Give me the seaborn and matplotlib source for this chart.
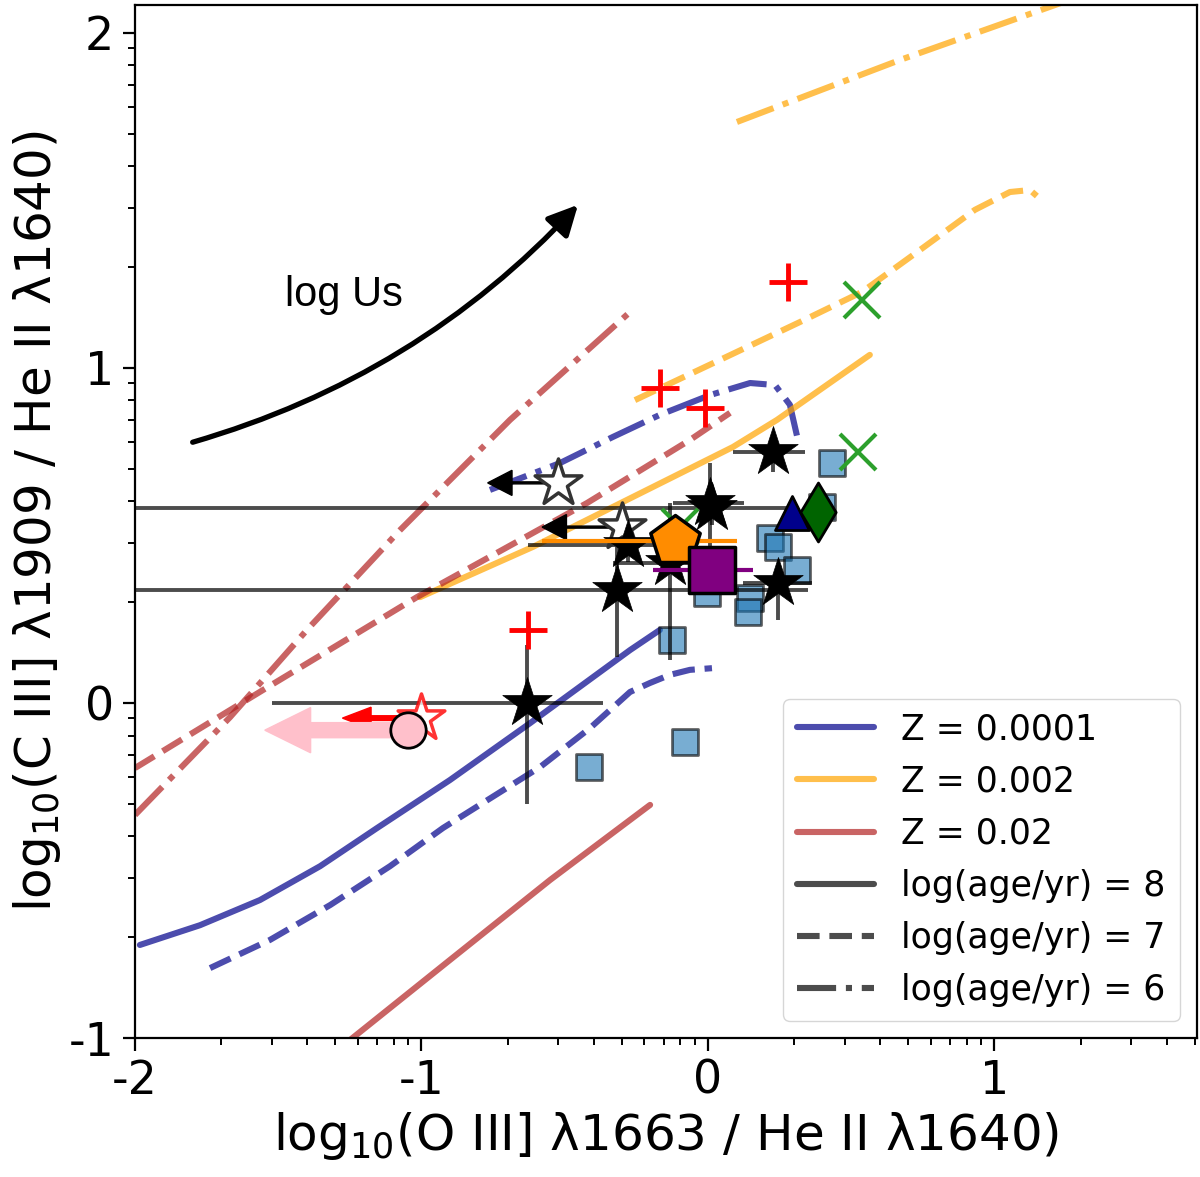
# ============================================
# UV LINE-RATIO DIAGNOSTIC: CIII]/HeII vs OIII]/HeII
# ============================================

import numpy as np
import matplotlib
matplotlib.use("Agg")
import matplotlib.pyplot as plt
import seaborn as sns
from matplotlib.lines import Line2D

# ============================================
# MODEL TRACKS
# ============================================

# Z = 0.0001
blue_age8_x = [-1.983, -1.773, -1.564, -1.354, -1.155, -0.901, -0.621, -0.272, -0.168]
blue_age8_y = [-0.722, -0.663, -0.588, -0.487, -0.373, -0.230, -0.060, 0.158, 0.218]
blue_age7_x = [-1.738, -1.529, -1.319, -1.110, -0.925, -0.586, -0.412, -0.272, -0.202, -0.133, -0.063, 0.014]
blue_age7_y = [-0.791, -0.707, -0.603, -0.487, -0.373, -0.191, -0.075, 0.033, 0.060, 0.084, 0.099, 0.104]
blue_age6_x = [-0.761, -0.517, -0.332, -0.168, 0.007, 0.147, 0.234, 0.286, 0.314]
blue_age6_y = [0.636, 0.716, 0.794, 0.860, 0.919, 0.955, 0.949, 0.890, 0.785]

# Z = 0.002
orange_age8_x = [-1.005, -0.611, -0.262, 0.087, 0.241, 0.565]
orange_age8_y = [0.316, 0.466, 0.615, 0.764, 0.845, 1.039]
orange_age7_x = [-0.255, 0.042, 0.321, 0.538, 0.740, 0.932, 1.054, 1.124, 1.148]
orange_age7_y = [0.904, 1.024, 1.137, 1.227, 1.352, 1.472, 1.525, 1.531, 1.513]
orange_age6_x = [0.101, 0.670, 1.264]
orange_age6_y = [1.734, 1.919, 2.099]

# Z = 0.02
red_age8_x = [-1.250, -0.901, -0.551, -0.202]
red_age8_y = [-1.006, -0.767, -0.528, -0.304]
red_age7_x = [-2.000, -1.553, -1.016, -0.422, -0.063, 0.077]
red_age7_y = [-0.194, 0.039, 0.316, 0.597, 0.785, 0.866]
red_age6_x = [-2.000, -1.668, -1.400, -1.075, -0.691, -0.272]
red_age6_y = [-0.334, -0.042, 0.218, 0.516, 0.845, 1.167]

# ============================================
# OBSERVED POINTS
# ============================================

# filled black stars with asymmetric errors
star_x = [0.227, 0.007, 0.015, -0.279, -0.318, -0.133, 0.244, -0.632]
star_y = [0.749, 0.597, 0.582, 0.472, 0.337, 0.418, 0.358, 0.000]
star_xlo = [0.14, 0.13, 3.00, 0.35, 3.00, 0.20, 0.12, 0.89]
star_xhi = [0.11, 0.12, 0.27, 0.12, 0.667, 0.15, 0.12, 0.265]
star_ylo = [0.06, 0.25, 0.05, 0.05, 0.20, 0.29, 0.11, 0.30]
star_yhi = [0.05, 0.12, 0.05, 0.05, 0.13, 0.18, 0.05, 0.173]

# open stars (upper limits in x)
open_x = [-0.524, -0.300]
open_y = [0.657, 0.525]
open_dx = [-0.245, -0.279]

# red open star limit
redstar_x = [-1.000]
redstar_y = [-0.045]
redstar_dx = [-0.276]

# pink circle limit
pink_x = [-1.047]
pink_y = [-0.081]
pink_dx = [-0.50]

# red plus
plus_x = [0.279, -0.168, -0.010, -0.628]
plus_y = [1.257, 0.940, 0.881, 0.218]

# green crosses
cross_x = [0.538, 0.524, -0.098]
cross_y = [1.203, 0.749, 0.525]

# blue squares
sq_x = [0.433, 0.398, 0.216, 0.244, 0.311, 0.147, 0.140, -0.003, -0.126, -0.080, -0.415]
sq_y = [0.716, 0.585, 0.493, 0.466, 0.397, 0.313, 0.272, 0.328, 0.188, -0.116, -0.191]

# single objects
pent_x, pent_y = [-0.115], [0.484]
pent_xlo, pent_xhi = [0.464], [0.216]
purple_x, purple_y = [0.014], [0.397]
purple_xlo, purple_xhi = [0.206], [0.143]
tri_x, tri_y = [0.293], [0.567]
dia_x, dia_y = [0.384], [0.570]

# ============================================
# STYLE SETTINGS
# ============================================

sns.set_style("ticks")
plt.rcParams['font.family'] = ['DejaVu Sans']
plt.rcParams['axes.unicode_minus'] = False
plt.rcParams['mathtext.default'] = 'regular'
for key in ['text.color', 'axes.labelcolor', 'xtick.color', 'ytick.color',
            'axes.edgecolor']:
    plt.rcParams[key] = 'black'

BLUE = "darkblue"
ORANGE = "orange"
RED = "firebrick"
LW = 4.4
AL = 0.7

fig = plt.figure(figsize=(12, 11.77), dpi=100)
ax = fig.add_axes([0.1125, 0.118, 0.885, 0.878])

# ============================================
# DRAW MODEL TRACKS
# ============================================

tracks = [
    (blue_age8_x, blue_age8_y, BLUE, "-"),
    (blue_age7_x, blue_age7_y, BLUE, "--"),
    (blue_age6_x, blue_age6_y, BLUE, "-."),
    (orange_age8_x, orange_age8_y, ORANGE, "-"),
    (orange_age7_x, orange_age7_y, ORANGE, "--"),
    (orange_age6_x, orange_age6_y, ORANGE, "-."),
    (red_age8_x, red_age8_y, RED, "-"),
    (red_age7_x, red_age7_y, RED, "--"),
    (red_age6_x, red_age6_y, RED, "-."),
]

for tx, ty, col, ls in tracks:
    sns.lineplot(x=tx, y=ty, sort=False, estimator=None, color=col,
                 linestyle=ls, linewidth=LW, alpha=AL, ax=ax, zorder=2)

# ============================================
# LOG U ARROW
# ============================================

ax.annotate("", xy=(-0.447, 1.493), xytext=(-1.808, 0.776),
            arrowprops=dict(arrowstyle="-|>", color="k", lw=3.8,
                            mutation_scale=45,
                            connectionstyle="arc3,rad=0.14"))
ax.text(-1.27, 1.218, "log Us", fontsize=30, ha="center", va="center",
        family=["Liberation Sans", "DejaVu Sans"])

# ============================================
# DATA POINTS
# ============================================

sns.scatterplot(x=sq_x, y=sq_y, marker="s", s=340, color="tab:blue",
                alpha=0.6, edgecolor="k", linewidth=2, ax=ax, zorder=3)

ax.errorbar(star_x, star_y, xerr=[star_xlo, star_xhi],
            yerr=[star_ylo, star_yhi], fmt="none", ecolor="k",
            alpha=0.7, elinewidth=2.8, capsize=0, zorder=4)

# upper limit arrows
for ox, oy, odx in zip(open_x, open_y, open_dx):
    ax.arrow(ox, oy, odx, 0, width=0.006, head_width=0.075,
             head_length=0.085, length_includes_head=True,
             color="k", zorder=4)
for ox, oy, odx in zip(redstar_x, redstar_y, redstar_dx):
    ax.arrow(ox, oy, odx, 0, width=0.014, head_width=0.065,
             head_length=0.10, length_includes_head=True,
             color="red", zorder=4)
for ox, oy, odx in zip(pink_x, pink_y, pink_dx):
    ax.arrow(ox, oy, odx, 0, width=0.045, head_width=0.135,
             head_length=0.16, length_includes_head=True,
             color="pink", zorder=4)

sns.scatterplot(x=open_x, y=open_y, marker="*", s=1250, color="white",
                edgecolor="#333333", linewidth=2.5, ax=ax, zorder=5)
sns.scatterplot(x=redstar_x, y=redstar_y, marker="*", s=1250, color="white",
                edgecolor="red", alpha=0.8, linewidth=2.5, ax=ax, zorder=5)
sns.scatterplot(x=pink_x, y=pink_y, marker="o", s=650, color="pink",
                edgecolor="k", linewidth=2, ax=ax, zorder=6)

sns.scatterplot(x=star_x, y=star_y, marker="*", s=1400, color="k",
                edgecolor="k", linewidth=0.5, ax=ax, zorder=5)

ax.plot(plus_x, plus_y, "+", color="red", markersize=28,
        markeredgewidth=3.5, linestyle="none", zorder=5)
ax.plot(cross_x, cross_y, "x", color="tab:green", markersize=26,
        markeredgewidth=3, linestyle="none", zorder=4)

ax.errorbar(pent_x, pent_y, xerr=[pent_xlo, pent_xhi], fmt="none",
            ecolor="darkorange", elinewidth=3, capsize=0, zorder=5)
sns.scatterplot(x=pent_x, y=pent_y, marker="p", s=1400, color="darkorange",
                edgecolor="k", linewidth=2.5, ax=ax, zorder=6)

ax.errorbar(purple_x, purple_y, xerr=[purple_xlo, purple_xhi],
            yerr=[[0.07], [0.07]], fmt="none", ecolor="purple",
            elinewidth=3, capsize=0, zorder=6)
sns.scatterplot(x=purple_x, y=purple_y, marker="s", s=1050, color="purple",
                edgecolor="k", linewidth=2.5, ax=ax, zorder=7)

sns.scatterplot(x=tri_x, y=tri_y, marker="^", s=600, color="darkblue",
                edgecolor="k", linewidth=2, ax=ax, zorder=6)
sns.scatterplot(x=dia_x, y=dia_y, marker="d", s=900, color="darkgreen",
                edgecolor="k", linewidth=2, ax=ax, zorder=6)

# ============================================
# AXES
# ============================================

ax.set_xlim(-2, 1.707)
ax.set_ylim(-1, 2.084)

ax.set_xticks([-2, -1, 0, 1])
ax.set_yticks([-1, 0, 1, 2])
minor_offsets = np.log10(np.arange(2, 10))
ax.set_xticks([b + o for b in [-2, -1, 0, 1] for o in minor_offsets
               if b + o < 1.707], minor=True)
ax.set_yticks([b + o for b in [-1, 0, 1] for o in minor_offsets], minor=True)

ax.tick_params(which="major", direction="out", length=9, width=1.6,
               labelsize=33, pad=6)
ax.tick_params(which="minor", direction="out", length=5, width=1.4)
for sp in ax.spines.values():
    sp.set_linewidth(1.6)

ax.set_xlabel(r"log$_{10}$(O III] $\lambda$1663 / He II $\lambda$1640)",
              fontsize=36, labelpad=4)
ax.set_ylabel(r"log$_{10}$(C III] $\lambda$1909 / He II $\lambda$1640)",
              fontsize=36, labelpad=4)

# ============================================
# LEGEND
# ============================================

handles = [
    Line2D([], [], color=BLUE, lw=LW, alpha=AL),
    Line2D([], [], color=ORANGE, lw=LW, alpha=AL),
    Line2D([], [], color=RED, lw=LW, alpha=AL),
    Line2D([], [], color="k", lw=LW, alpha=AL, ls="-"),
    Line2D([], [], color="k", lw=LW, alpha=AL, ls="--"),
    Line2D([], [], color="k", lw=LW, alpha=AL, ls="-."),
]
labels = ["Z = 0.0001", "Z = 0.002", "Z = 0.02",
          "log(age/yr) = 8", "log(age/yr) = 7", "log(age/yr) = 6"]
ax.legend(handles, labels, loc="lower right", fontsize=25,
          handlelength=2.2, labelspacing=0.52, framealpha=0.8)

plt.savefig("out.png", dpi=100)
